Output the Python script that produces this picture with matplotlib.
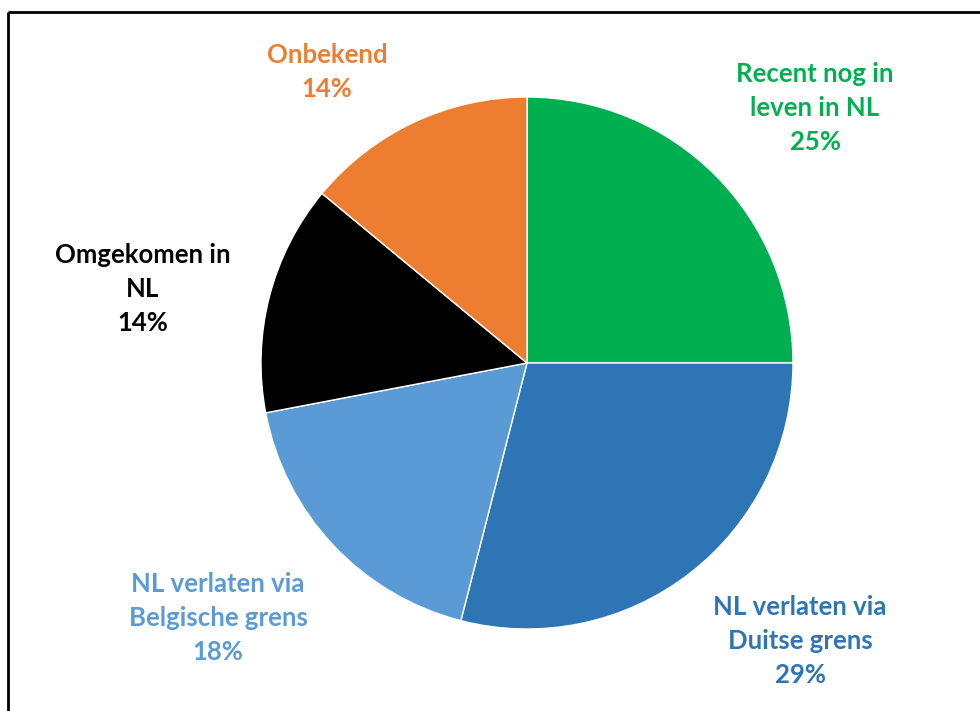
import matplotlib
matplotlib.use("Agg")
import matplotlib.pyplot as plt

labels = ["Recent nog in\nleven in NL", "NL verlaten via\nDuitse grens",
          "NL verlaten via\nBelgische grens", "Omgekomen in\nNL", "Onbekend"]
values = [25, 29, 18, 14, 14]
colors = ["#00B050", "#2E75B6", "#5B9BD5", "#000000", "#ED7D31"]
label_pos = [(815, 108), (800, 641), (218, 618), (143, 289), (327, 72)]

W, H = 980, 711
fig = plt.figure(figsize=(W / 100, H / 100), dpi=100)
ax = fig.add_axes([0, 0, 1, 1])
ax.set_xlim(0, W)
ax.set_ylim(0, H)
ax.set_aspect("equal")
ax.axis("off")

ax.pie(values, colors=colors, startangle=90, counterclock=False,
       center=(527, H - 363), radius=266,
       wedgeprops=dict(edgecolor="white", linewidth=1))
ax.set_xlim(0, W)
ax.set_ylim(0, H)

# frame (top and left)
ax.plot([8, 8], [0, H - 12], color="black", lw=2, solid_capstyle="butt")
ax.plot([8, W], [H - 12, H - 12], color="black", lw=2, solid_capstyle="butt")

for lab, v, c, (x, y) in zip(labels, values, colors, label_pos):
    ax.text(x, H - y, f"{lab}\n{v}%", color=c, ha="center", va="center",
            fontsize=18.5, fontweight="bold", family="Lato", linespacing=1.52)

fig.savefig("out.png", dpi=100)
